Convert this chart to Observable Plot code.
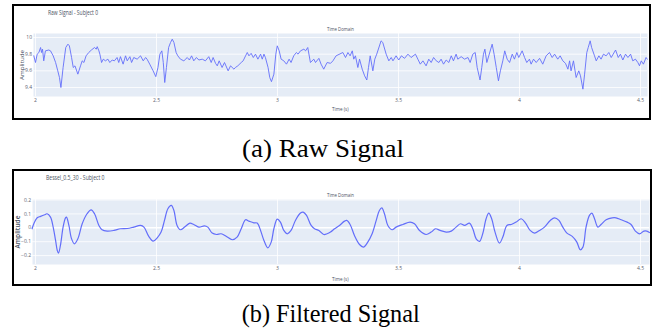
<!DOCTYPE html>
<html><head><meta charset="utf-8">
<script src="https://cdn.jsdelivr.net/npm/d3@7"></script>
<script src="https://cdn.jsdelivr.net/npm/@observablehq/plot@0.6"></script>
<style>
html,body{margin:0;padding:0;background:#fff;}
#fig{position:relative;width:659px;height:333px;overflow:hidden;background:#fff;}
.box{position:absolute;box-sizing:border-box;border:2.5px solid #000;}
.plot{position:absolute;left:0;}
#overlay{position:absolute;left:0;top:0;}
</style></head>
<body>
<div id="fig">
  <div class="box" style="left:12px;top:4px;width:639px;height:116px;"></div>
  <div class="box" style="left:12px;top:169px;width:640px;height:117px;"></div>
  <div id="pa" class="plot" style="top:0px"></div>
  <div id="pb" class="plot" style="top:165px"></div>
  <svg id="overlay" width="659" height="333" font-family="Open Sans, sans-serif">
    <g fill="#4a5262" font-size="7">
      <text x="48" y="12" dominant-baseline="central" textLength="50" lengthAdjust="spacingAndGlyphs">Raw Signal - Subject 0</text>
      <text x="327" y="29" dominant-baseline="central" font-size="6" textLength="27" lengthAdjust="spacingAndGlyphs">Time Domain</text>
      <text x="332" y="109" dominant-baseline="central" font-size="6" textLength="16.5" lengthAdjust="spacingAndGlyphs">Time (s)</text>
      <text transform="translate(22,65) rotate(-90)" text-anchor="middle" dominant-baseline="central" font-size="6" textLength="30" lengthAdjust="spacingAndGlyphs">Amplitude</text>
      <text x="46" y="177.5" dominant-baseline="central" textLength="58.5" lengthAdjust="spacingAndGlyphs">Bessel_0.5_30 - Subject 0</text>
      <text x="327" y="195" dominant-baseline="central" font-size="6" textLength="27" lengthAdjust="spacingAndGlyphs">Time Domain</text>
      <text x="332" y="278.5" dominant-baseline="central" font-size="6" textLength="16.5" lengthAdjust="spacingAndGlyphs">Time (s)</text>
      <text transform="translate(17,232) rotate(-90)" text-anchor="middle" dominant-baseline="central" font-size="7" font-weight="600" textLength="33" lengthAdjust="spacingAndGlyphs">Amplitude</text>
    </g>
    <g fill="#000" font-family="Liberation Serif, Times New Roman, serif" font-size="25">
      <text x="242" y="157.3" textLength="162" lengthAdjust="spacingAndGlyphs">(a) Raw Signal</text>
      <text x="241.7" y="321.7" textLength="178" lengthAdjust="spacingAndGlyphs">(b) Filtered Signal</text>
    </g>
  </svg>
</div>
<script>
// ---- data ----
const xTicks = [2, 2.5, 3, 3.5, 4, 4.5];
const xTickLabels = ["2", "2.5", "3", "3.5", "4", "4.5"];
const rawYTicks = [9.4, 9.6, 9.8, 10];
const rawYLabels = ["9.4", "9.6", "9.8", "10"];
const filtYTicks = [-0.2, -0.1, 0, 0.1, 0.2];
const filtYLabels = ["\u22120.2", "\u22120.1", "0", "0.1", "0.2"];

const rawTimeA = [1.993,2.000,2.007,2.014,2.021,2.025,2.029,2.034,2.041,2.055,
2.062,2.073,2.083,2.092,2.099,2.105,2.114,2.125,2.134,2.140,
2.149,2.156,2.163,2.175,2.186,2.193,2.200,2.209,2.220,2.231,
2.244,2.251,2.255,2.262,2.266,2.273,2.280,2.289,2.299,2.307,
2.317,2.326,2.337,2.344,2.351,2.362,2.372,2.379,2.390,2.397,
2.406,2.420,2.434,2.445,2.455,2.461,2.472,2.486,2.497,2.506,
2.514,2.522,2.528,2.534,2.541,2.550,2.558,2.565,2.572,2.581,
2.588,2.599,2.613,2.627,2.636,2.645,2.654,2.665,2.675,2.689,
2.702,2.716,2.726,2.734,2.744,2.751,2.759,2.771,2.781,2.796,
2.806,2.820,2.826,2.836,2.850,2.858,2.868,2.875,2.882,2.891,
2.900,2.909,2.919,2.930,2.937,2.944,2.950,2.961,2.968,2.975,
2.985,2.993,2.999,3.007,3.015,3.026,3.037,3.048,3.056,3.067,
3.078,3.085,3.095,3.109,3.116,3.125,3.136,3.150,3.157,3.171,
3.180,3.191,3.205,3.219];
const rawAmpA = [9.78,9.70,9.80,9.82,9.88,9.82,9.86,9.72,9.84,9.85,
9.84,9.78,9.70,9.60,9.52,9.40,9.64,9.88,9.92,9.90,
9.76,9.64,9.66,9.56,9.66,9.72,9.70,9.78,9.82,9.85,
9.88,9.86,9.89,9.84,9.80,9.70,9.74,9.72,9.74,9.70,
9.73,9.72,9.76,9.70,9.77,9.68,9.78,9.72,9.77,9.70,
9.76,9.74,9.78,9.72,9.76,9.74,9.68,9.60,9.53,9.64,
9.80,9.84,9.70,9.46,9.64,9.88,9.94,9.98,9.94,9.82,
9.78,9.74,9.72,9.76,9.73,9.78,9.72,9.76,9.73,9.74,
9.72,9.77,9.70,9.76,9.69,9.66,9.72,9.64,9.70,9.60,
9.66,9.62,9.64,9.66,9.70,9.72,9.78,9.82,9.78,9.81,
9.76,9.80,9.74,9.80,9.74,9.80,9.76,9.64,9.52,9.47,
9.56,9.80,9.90,9.84,9.74,9.72,9.68,9.74,9.70,9.78,
9.82,9.80,9.84,9.86,9.84,9.88,9.70,9.74,9.70,9.75,
9.68,9.62,9.70,9.69];
const rawTimeB = [3.229,3.242,3.270,3.281,3.291,3.300,3.309,3.315,3.322,3.332,
3.339,3.350,3.360,3.369,3.376,3.383,3.394,3.402,3.410,3.428,
3.435,3.449,3.460,3.470,3.477,3.490,3.501,3.512,3.525,3.539,
3.552,3.570,3.580,3.590,3.601,3.614,3.625,3.635,3.645,3.656,
3.667,3.676,3.686,3.697,3.708,3.718,3.727,3.738,3.745,3.759,
3.773,3.787,3.796,3.807,3.817,3.825,3.837,3.844,3.851,3.857,
3.865,3.873,3.887,3.895,3.904,3.913,3.921,3.931,3.939,3.949,
3.959,3.970,3.979,3.989,3.997,4.011,4.021,4.030,4.041,4.048,
4.058,4.069,4.083,4.096,4.110,4.124,4.135,4.145,4.158,4.168,
4.179,4.190,4.200,4.207,4.213,4.223,4.234,4.245,4.252,4.262,
4.269,4.278,4.284,4.292,4.298,4.310,4.317,4.328,4.337,4.347,
4.358,4.369,4.379,4.397,4.408,4.417,4.427,4.438,4.448,4.459,
4.468,4.479,4.489,4.496,4.503,4.512,4.523,4.528];
const rawAmpB = [9.72,9.78,9.82,9.76,9.82,9.78,9.84,9.74,9.78,9.64,
9.74,9.62,9.54,9.49,9.64,9.78,9.60,9.74,9.80,9.96,
9.94,9.80,9.72,9.76,9.72,9.78,9.73,9.78,9.75,9.80,
9.76,9.80,9.74,9.68,9.72,9.66,9.74,9.70,9.76,9.72,
9.70,9.74,9.68,9.73,9.70,9.78,9.72,9.80,9.74,9.77,
9.74,9.76,9.70,9.80,9.82,9.64,9.49,9.64,9.80,9.86,
9.70,9.78,9.92,9.80,9.64,9.48,9.60,9.72,9.84,9.74,
9.70,9.80,9.74,9.82,9.76,9.84,9.76,9.70,9.74,9.68,
9.74,9.70,9.75,9.68,9.78,9.82,9.76,9.80,9.74,9.78,
9.72,9.69,9.62,9.72,9.60,9.72,9.52,9.60,9.54,9.38,
9.56,9.82,9.88,9.96,9.88,9.78,9.72,9.78,9.74,9.80,
9.78,9.82,9.76,9.85,9.76,9.80,9.73,9.80,9.76,9.80,
9.72,9.74,9.70,9.66,9.72,9.68,9.76,9.74];

const filtTimeA = [1.986,1.993,2.007,2.021,2.041,2.048,2.062,2.073,2.083,2.090,
2.095,2.103,2.114,2.124,2.128,2.138,2.149,2.161,2.175,2.193,
2.213,2.230,2.244,2.262,2.275,2.296,2.324,2.351,2.379,2.406,
2.434,2.448,2.468,2.486,2.503,2.519,2.533,2.547,2.561,2.572,
2.585,2.599,2.616,2.638,2.654,2.675,2.698,2.712,2.730,2.748,
2.767,2.789,2.813,2.833,2.850,2.868,2.882,2.902,2.916,2.930,
2.944,2.960,2.974,2.985,2.999,3.012,3.026,3.040,3.056,3.074,
3.095,3.106,3.120,3.139,3.153,3.171,3.191,3.205,3.219];
const filtAmpA = [-0.007,0.029,0.072,0.082,0.096,0.101,0.077,0.005,-0.091,-0.163,
-0.182,-0.127,0.005,0.072,0.077,0.017,-0.079,-0.115,-0.079,0.029,
0.101,0.129,0.101,0.017,-0.014,-0.024,-0.019,-0.007,-0.005,0.005,
0.017,0.005,-0.062,-0.096,-0.072,-0.031,0.053,0.137,0.161,0.125,
0.017,-0.014,0.005,0.034,0.024,0.005,0.014,0.005,-0.038,-0.048,
-0.043,-0.062,-0.086,-0.067,-0.007,0.058,0.048,0.036,0.034,-0.019,
-0.091,-0.144,-0.103,-0.007,0.062,0.041,-0.019,-0.043,-0.019,0.053,
0.106,0.113,0.089,0.017,-0.007,-0.019,-0.048,-0.043,-0.031];
const filtTimeB = [3.236,3.256,3.277,3.286,3.300,3.318,3.339,3.355,3.373,3.391,
3.408,3.421,3.431,3.442,3.456,3.474,3.490,3.518,3.548,3.566,
3.587,3.614,3.635,3.653,3.672,3.697,3.718,3.738,3.756,3.773,
3.793,3.807,3.821,3.835,3.848,3.862,3.873,3.885,3.899,3.917,
3.931,3.948,3.966,3.986,4.007,4.025,4.044,4.062,4.083,4.103,
4.127,4.145,4.163,4.179,4.196,4.218,4.237,4.251,4.262,4.275,
4.289,4.299,4.310,4.324,4.337,4.358,4.383,4.399,4.420,4.445,
4.461,4.479,4.496,4.514,4.526,4.537];
const filtAmpB = [-0.007,0.017,0.048,0.053,0.024,-0.055,-0.120,-0.139,-0.103,-0.043,
0.053,0.125,0.144,0.101,0.017,-0.014,0.005,0.024,0.041,0.029,
-0.019,-0.048,-0.031,-0.007,-0.019,-0.031,-0.024,0.005,0.029,0.017,
0.034,-0.007,-0.079,-0.098,-0.043,0.065,0.106,0.065,-0.031,-0.110,
-0.067,0.017,0.024,0.041,0.065,0.034,-0.019,-0.038,-0.019,0.005,
0.053,0.072,0.053,0.005,-0.038,-0.062,-0.103,-0.158,-0.139,0.005,
0.089,0.106,0.065,0.005,0.024,0.058,0.072,0.072,0.058,0.041,
0.024,-0.024,-0.043,-0.024,-0.024,-0.034];

// ---- build tables ----
const zip = (ts, vs) => ts.map((t, i) => ({t, v: vs[i]}));
const raw = zip(rawTimeA.concat(rawTimeB), rawAmpA.concat(rawAmpB));
const filt = zip(filtTimeA.concat(filtTimeB), filtAmpA.concat(filtAmpB));

const tickColor = "#5b6270";
const lineColor = "#636efa";
const bg = "#E5ECF6";

function panel({data, yDomain, xDomain, yTicks, yLabels, margins, strokeWidth, curve, zero}) {
  return Plot.plot({
    width: 659, height: 125,
    marginLeft: margins[0], marginRight: margins[1], marginTop: margins[2], marginBottom: margins[3],
    x: {domain: xDomain},
    y: {domain: yDomain},
    style: {background: "transparent", fontFamily: "Open Sans, sans-serif", fontSize: "5px", overflow: "visible"},
    marks: [
      Plot.frame({fill: bg, stroke: null}),
      Plot.gridX(xTicks, {stroke: "#fff", strokeOpacity: 1, strokeWidth: 0.8}),
      Plot.gridY(yTicks, {stroke: "#fff", strokeOpacity: 1, strokeWidth: d => (zero && d === 0) ? 1.6 : 0.8}),
      Plot.axisX(xTicks, {tickSize: 0, tickPadding: 1.5, label: null, fill: tickColor, fontSize: 5,
        tickFormat: d => xTickLabels[xTicks.indexOf(d)]}),
      Plot.axisY(yTicks, {tickSize: 0, tickPadding: 1.5, label: null, fill: tickColor, fontSize: 5,
        tickFormat: d => yLabels[yTicks.indexOf(d)]}),
      Plot.line(data, {x: "t", y: "v", stroke: lineColor, strokeWidth, curve})
    ]
  });
}

document.getElementById("pa").appendChild(panel({
  data: raw, xDomain: [1.9917, 4.5289], yDomain: [9.292, 10.048],
  yTicks: rawYTicks, yLabels: rawYLabels, margins: [33, 12, 33, 29],
  strokeWidth: 0.9, curve: "linear", zero: false
}));
document.getElementById("pb").appendChild(panel({
  data: filt, xDomain: [1.9876, 4.5372], yDomain: [-0.264, 0.2036],
  yTicks: filtYTicks, yLabels: filtYLabels, margins: [32, 10, 34, 26],
  strokeWidth: 1.2, curve: "catmull-rom", zero: true
}));
</script>
</body></html>
